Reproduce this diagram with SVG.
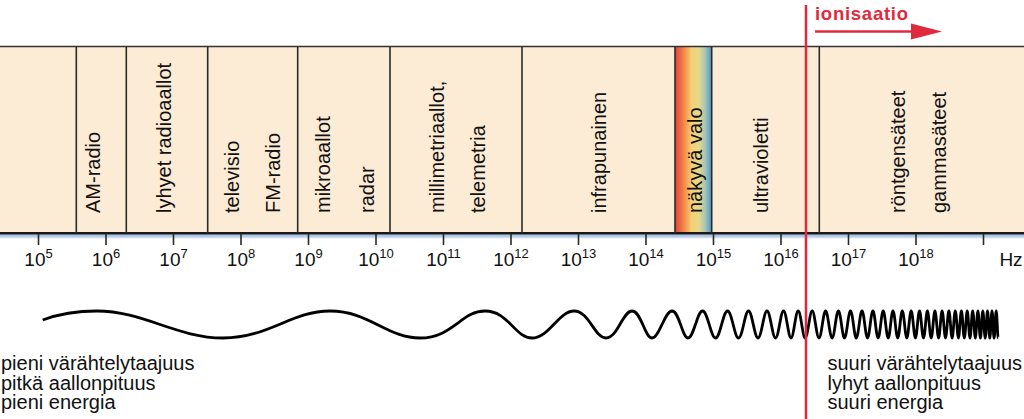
<svg xmlns="http://www.w3.org/2000/svg" width="1024" height="419" viewBox="0 0 1024 419">
<defs>
<linearGradient id="spec" x1="0" y1="0" x2="1" y2="0">
<stop offset="0" stop-color="#e5403a"/>
<stop offset="0.2" stop-color="#ef7a45"/>
<stop offset="0.45" stop-color="#f6cf72"/>
<stop offset="0.65" stop-color="#e6d88c"/>
<stop offset="0.82" stop-color="#a8c6b2"/>
<stop offset="1" stop-color="#4a96cf"/>
</linearGradient>
<linearGradient id="blue" x1="0" y1="0" x2="0" y2="1">
<stop offset="0" stop-color="#98b6de"/>
<stop offset="1" stop-color="#d6e2f2"/>
</linearGradient>
</defs>
<style>
.div{stroke:#2a2a2a;stroke-width:1.6;fill:none}
.tick{stroke:#2a2a2a;stroke-width:1.6}
.lab{font-family:"Liberation Sans",Arial,sans-serif;font-size:20px;fill:#111}
.num{font-family:"Liberation Sans",Arial,sans-serif;font-size:19px;fill:#111;text-anchor:middle}
.sup{font-size:13px}
.txt{font-family:"Liberation Sans",Arial,sans-serif;font-size:20px;fill:#111}
.red{stroke:#e1293d;fill:none;stroke-width:2.5}
</style>
<g id="band">
<rect x="0" y="46.5" width="1024" height="186.5" fill="#fcebd5"/>
<rect x="675" y="46.5" width="36.7" height="186.5" fill="url(#spec)"/>
<rect x="0" y="234.3" width="1024" height="4" fill="url(#blue)"/>
<line x1="0" y1="46.5" x2="1024" y2="46.5" stroke="#333" stroke-width="1.6"/>
<line x1="0" y1="233.2" x2="1024" y2="233.2" stroke="#1a1a1a" stroke-width="2.4"/>
<path class="div" d="M76.3 46.5V233 M126.3 46.5V233 M207.7 46.5V233 M297.7 46.5V233 M390 46.5V233 M522 46.5V233 M675 46.5V233 M711.7 46.5V233 M819.3 46.5V233"/>
</g>
<g id="labels">
<text class="lab" transform="translate(100,213) rotate(-90)">AM-radio</text>
<text class="lab" transform="translate(171,213) rotate(-90)">lyhyet radioaallot</text>
<text class="lab" transform="translate(238.5,213) rotate(-90)">televisio</text>
<text class="lab" transform="translate(280,213) rotate(-90)">FM-radio</text>
<text class="lab" transform="translate(330,213) rotate(-90)">mikroaallot</text>
<text class="lab" transform="translate(373.5,213) rotate(-90)">radar</text>
<text class="lab" transform="translate(443.5,213) rotate(-90)">millimetriaallot,</text>
<text class="lab" transform="translate(485,213) rotate(-90)">telemetria</text>
<text class="lab" transform="translate(606,213) rotate(-90)">infrapunainen</text>
<text class="lab" transform="translate(702,213) rotate(-90)">näkyvä valo</text>
<text class="lab" transform="translate(767.5,213) rotate(-90)">ultravioletti</text>
<text class="lab" transform="translate(905,213) rotate(-90)">röntgensäteet</text>
<text class="lab" transform="translate(946,213) rotate(-90)">gammasäteet</text>
</g>
<g id="axis">
<path class="tick" d="M38.5 234V245 M106 234V245 M173.5 234V245 M241 234V245 M308.5 234V245 M376 234V245 M443.5 234V245 M511 234V245 M578.5 234V245 M646 234V245 M713.5 234V245 M781 234V245 M848.5 234V245 M916 234V245 M983.5 234V245"/>
<text class="num" x="38.5" y="265.5">10<tspan class="sup" dy="-8">5</tspan></text>
<text class="num" x="106" y="265.5">10<tspan class="sup" dy="-8">6</tspan></text>
<text class="num" x="173.5" y="265.5">10<tspan class="sup" dy="-8">7</tspan></text>
<text class="num" x="241" y="265.5">10<tspan class="sup" dy="-8">8</tspan></text>
<text class="num" x="308.5" y="265.5">10<tspan class="sup" dy="-8">9</tspan></text>
<text class="num" x="376" y="265.5">10<tspan class="sup" dy="-8">10</tspan></text>
<text class="num" x="443.5" y="265.5">10<tspan class="sup" dy="-8">11</tspan></text>
<text class="num" x="511" y="265.5">10<tspan class="sup" dy="-8">12</tspan></text>
<text class="num" x="578.5" y="265.5">10<tspan class="sup" dy="-8">13</tspan></text>
<text class="num" x="646" y="265.5">10<tspan class="sup" dy="-8">14</tspan></text>
<text class="num" x="713.5" y="265.5">10<tspan class="sup" dy="-8">15</tspan></text>
<text class="num" x="781" y="265.5">10<tspan class="sup" dy="-8">16</tspan></text>
<text class="num" x="848.5" y="265.5">10<tspan class="sup" dy="-8">17</tspan></text>
<text class="num" x="916" y="265.5">10<tspan class="sup" dy="-8">18</tspan></text>
<text class="num" x="1011" y="265.5">Hz</text>
</g>
<g id="wave">
<path fill="none" stroke="#000" stroke-width="2.8" stroke-linejoin="round" d="M42.7 320 C60 313.5 76 311 97 311 C142.8 311 177.2 338 223 338 S291.1 311 330 311 S387.3 338 420 338 S461.4 311 485 311 S514.9 338 532 338 S558.7 311 574 311 S594.4 338 606 338 S622.6 311 632 311 S644.7 338 652 338 S664.7 311 672 311 S682.2 338 688 338 S697.2 311 702.5 311 S710.8 338 715.5 338 S723.1 311 727.5 311 S734.5 338 738.5 338 S744.9 311 748.5 311 S754.5 338 758 338 S763.7 311 767 311 S772.4 338 775.5 338 S780.6 311 783.5 311 S788.3 338 791 338 S795.6 311 798.2 311 S802.7 338 805.2 338 S809.7 311 812.2 311 S816.5 338 819 338 S823.2 311 825.6 311 S829.7 338 832.1 338 S836.1 311 838.4 311 S842.3 338 844.5 338 S848.3 311 850.5 311 S854.2 338 856.3 338 S859.9 311 862 311 S865.5 338 867.5 338 S870.9 311 872.9 311 S876.2 338 878.1 338 S881.35 311 883.2 311 S886.4 338 888.2 338 S891.2 311 893 311 S896 338 897.7 338 S900.6 311 902.3 311 S905.2 338 906.8 338 S909.6 311 911.2 311 S913.9 338 915.4 338 S918 311 919.5 311 S922 338 923.5 338 S926 311 927.4 311 S929.8 338 931.2 338 S933.6 311 934.9 311 S937.3 338 938.6 338 S940.8 311 942.1 311 S944.3 338 945.5 338 S947.7 311 948.9 311 S950.9 338 952.1 338 S954.1 311 955.3 311 S957.3 338 958.4 338 S960.3 311 961.4 311 S963.2 338 964.3 338 S966.2 311 967.2 311 S969 338 970 338 S971.7 311 972.7 311 S974.4 338 975.3 338 S977 311 977.9 311 S979.5 338 980.4 338 S981.9 311 982.8 311 S984.3 338 985.2 338 S986.7 311 987.5 311 S989 338 989.8 338 S991.2 311 992 311 S993.3 338 994.1 338 S995.4 311 996.2 311 S997.5 338 998.2 338"/>
</g>
<g id="texts">
<text class="txt" x="1" y="370">pieni värähtelytaajuus</text>
<text class="txt" x="1" y="389.7">pitkä aallonpituus</text>
<text class="txt" x="1" y="409.4">pieni energia</text>
<text class="txt" x="827.5" y="370">suuri värähtelytaajuus</text>
<text class="txt" x="827.5" y="389.7">lyhyt aallonpituus</text>
<text class="txt" x="827.5" y="409.4">suuri energia</text>
</g>
<g id="ionisation">
<line class="red" x1="806" y1="5" x2="806" y2="419"/>
<text x="815" y="19.5" font-family="Liberation Sans,Arial,sans-serif" font-weight="bold" font-size="18.5" fill="#e1293d" textLength="93" lengthAdjust="spacing">ionisaatio</text>
</g>
<g id="connectors">
<line class="red" x1="815" y1="31.5" x2="914" y2="31.5"/>
<polygon points="911,23.5 942,31.5 911,39.5" fill="#e1293d"/>
</g>
</svg>
